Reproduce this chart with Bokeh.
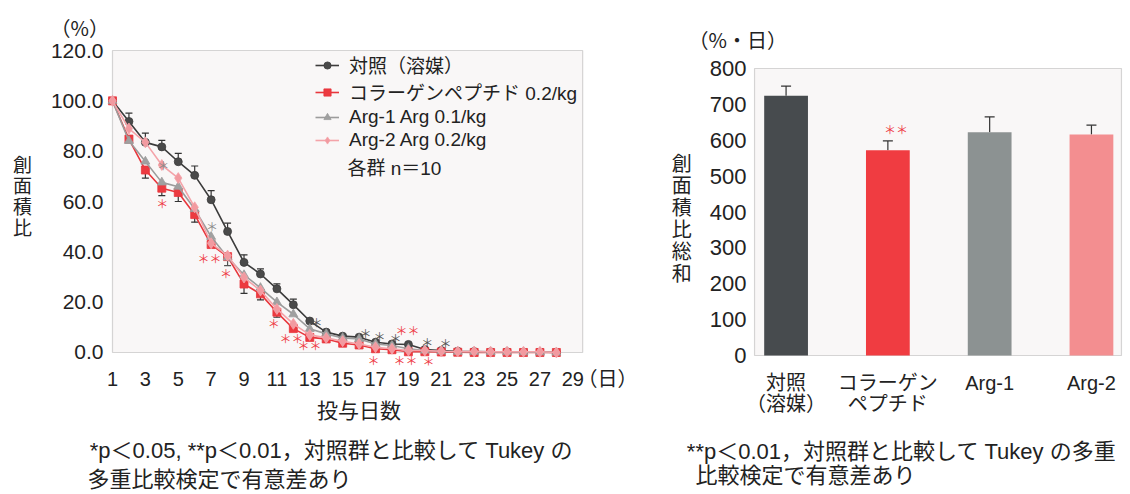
from bokeh.plotting import figure
from bokeh.models import (ColumnDataSource, Label, LabelSet, Legend, LegendItem, Title,
                          Whisker, TeeHead, FixedTicker, NumeralTickFormatter, LinearAxis,
                          Range1d, BoxAnnotation)
from bokeh.layouts import row
from bokeh.core.properties import value
from bokeh.embed import file_html
from bokeh.resources import INLINE

JP = "Noto Sans CJK JP"
LAT = "Liberation Sans"
MIX = "Liberation Sans, Noto Sans CJK JP"

# ---------------- data: wound area ratio (%) by day ----------------
days = list(range(1, 29))
control  = [100.0, 91.8, 83.5, 81.7, 75.8, 70.4, 60.7, 48.1, 35.8, 31.2, 25.3, 19.0, 12.5, 8.1,
            6.5, 6.1, 4.1, 3.4, 3.2, 1.2, 0.8, 0.5, 0.4, 0.3, 0.3, 0.2, 0.2, 0.0]
collagen = [100.0, 84.8, 72.5, 65.3, 63.6, 54.8, 42.9, 38.1, 27.2, 23.3, 16.0, 9.5, 6.0, 5.4,
            3.7, 3.0, 1.5, 1.1, 0.3, 0.3, 0.2, 0.1, 0.0, 0.0, 0.0, 0.0, 0.0, 0.0]
arg1     = [100.0, 84.1, 75.9, 67.6, 65.9, 57.0, 46.0, 37.8, 30.8, 25.7, 20.0, 15.2, 9.4, 7.4,
            5.8, 5.4, 3.4, 2.8, 1.5, 0.8, 0.5, 0.3, 0.3, 0.2, 0.2, 0.1, 0.1, 0.0]
arg2     = [100.0, 89.0, 83.5, 74.5, 69.3, 57.7, 43.4, 38.5, 29.8, 24.6, 17.3, 11.4, 7.0, 5.8,
            4.5, 3.4, 2.1, 1.5, 0.8, 0.8, 0.5, 0.4, 0.4, 0.3, 0.3, 0.3, 0.3, 0.0]
control_sd  = [0, 3.3, 3.7, 2.6, 3.3, 3.7, 3.6, 3.3, 3.0, 2.0, 2.0, 2.2, 0, 0,
               0, 0, 0, 0, 0, 0, 0, 0, 0, 0, 0, 0, 0, 0]
collagen_sd = [0, 0, 3.2, 3.0, 3.6, 3.0, 0, 0, 3.7, 2.4, 2.0, 0, 0, 0,
               0, 0, 0, 0, 0, 0, 0, 0, 0, 0, 0, 0, 0, 0]
arg1_sd     = [0, 0, 0, 0, 0, 0, 0, 3.3, 0, 0, 0, 0, 0, 0,
               0, 0, 0, 0, 0, 0, 0, 0, 0, 0, 0, 0, 0, 0]
series_names = ["対照（溶媒）", "コラーゲンペプチド 0.2/kg", "Arg-1 Arg 0.1/kg", "Arg-2 Arg 0.2/kg"]
x_ticks = [1, 3, 5, 7, 9, 11, 13, 15, 17, 19, 21, 23, 25, 27, 29]
x_unit_pos = 31.11
x_unit = "（日）"
y_ticks = [0, 20, 40, 60, 80, 100, 120]

# significance marks (day position, value position, text)
sig_gray_day = [4.08, 7.06]
sig_gray_y = [74.3, 50.2]
sig_gray_txt = ["＊", "＊"]
sig_dark_day = [13.41, 16.39, 17.24, 18.21, 20.14, 21.26]
sig_dark_y = [11.9, 7.4, 6.4, 5.4, 4.1, 3.5]
sig_dark_txt = ["＊", "＊", "＊", "＊", "＊", "＊"]
sig_red_day = [4.02, 6.90, 7.90, 10.81, 11.89, 12.98, 18.94, 16.88, 18.82, 20.22]
sig_red_y = [59.1, 37.3, 31.2, 11.4, 5.6, 2.6, 8.7, -3.2, -3.2, -3.5]
sig_red_txt = ["＊", "＊＊", "＊", "＊", "＊＊", "＊＊", "＊＊", "＊", "＊＊", "＊"]

# ---------------- data: AUC ----------------
groups = ["対照\n（溶媒）", "コラーゲン\nペプチド", "Arg-1", "Arg-2"]
group_pos = [1, 2, 3, 4]
auc = [724, 572, 622, 616]
auc_sd = [27, 26, 43, 26]
auc_sig = ["", "＊＊", "", ""]
auc_ticks = [0, 100, 200, 300, 400, 500, 600, 700, 800]

# footnotes (text, centre position on each chart's x scale)
note_left = ["*p＜0.05, **p＜0.01，対照群と比較して Tukey の", "多重比較検定で有意差あり"]
note_left_pos = [14.32, 7.51]
note_right = ["**p＜0.01，対照群と比較して Tukey の多重", "比較検定で有意差あり"]
note_right_pos = [2.135, 1.19]

# ---------------- styles ----------------
line_cols = ["#3c3c3c", "#e8363c", "#9c9c9c", "#f4a3a9"]
fill_cols = ["#4a4a4a", "#ec3a40", "#a0a0a0", "#f29aa0"]
markers = ["circle", "square", "triangle", "diamond"]
msizes = [8, 8, 9, 11]
bar_cols = ["#474b4e", "#f03c41", "#8c9292", "#f38e90"]
BG = "#f9f7f7"
FRAME = "#7a7a7a"
TXT = "#222222"
H = 494


def note_axis(p, pos, text, standoff):
    ax = LinearAxis(ticker=FixedTicker(ticks=[pos]), major_label_overrides={pos: text},
                    axis_line_color=None, major_tick_line_color=None, minor_tick_line_color=None,
                    major_tick_out=0, major_tick_in=0, minor_tick_out=0, minor_tick_in=0,
                    major_label_standoff=standoff, major_label_text_font=MIX,
                    major_label_text_font_size="22px", major_label_text_color=TXT)
    p.add_layout(ax, "below")


# =============== left figure ===============
p1 = figure(width=640, height=H, x_range=Range1d(0.696, 31.292), y_range=Range1d(-5.166, 120.4),
            output_backend="svg", toolbar_location=None,
            min_border_left=107, min_border_right=30, min_border_top=49, min_border_bottom=129)
p1.background_fill_color = "white"
p1.border_fill_color = "white"
p1.outline_line_color = None
p1.grid.grid_line_color = None
p1.add_layout(BoxAnnotation(left=1, right=29.6, bottom=0, top=120, fill_color=BG, fill_alpha=1.0,
                            line_color=FRAME, line_width=1.2, level="underlay"))

renderers = []
for vals, lc, fc, mk, ms in zip([control, collagen, arg1, arg2], line_cols, fill_cols, markers, msizes):
    ln = p1.line(days, vals, line_color=lc, line_width=1.6)
    sc = p1.scatter(days, vals, marker=mk, size=ms, fill_color=fc, line_color=lc, line_width=0.8)
    renderers.append([ln, sc])


def whisk(vals, sd, up, color):
    xs = [d for d, s in zip(days, sd) if s > 0]
    vs = [v for v, s in zip(vals, sd) if s > 0]
    ss = [s for s in sd if s > 0]
    if up:
        src = ColumnDataSource(dict(x=xs, lo=vs, hi=[v + s for v, s in zip(vs, ss)]))
        w = Whisker(source=src, base="x", lower="lo", upper="hi", dimension="height",
                    line_color=color, line_width=1.2,
                    upper_head=TeeHead(size=7, line_color=color, line_width=1.2), lower_head=None)
    else:
        src = ColumnDataSource(dict(x=xs, lo=[v - s for v, s in zip(vs, ss)], hi=vs))
        w = Whisker(source=src, base="x", lower="lo", upper="hi", dimension="height",
                    line_color=color, line_width=1.2,
                    lower_head=TeeHead(size=7, line_color=color, line_width=1.2), upper_head=None)
    w.level = "underlay"
    p1.add_layout(w)


whisk(control, control_sd, True, "#333333")
whisk(collagen, collagen_sd, False, "#333333")
whisk(arg1, arg1_sd, False, "#555555")

for dx, dy, tx, col in [(sig_gray_day, sig_gray_y, sig_gray_txt, "#8a8a8a"),
                        (sig_dark_day, sig_dark_y, sig_dark_txt, "#505050"),
                        (sig_red_day, sig_red_y, sig_red_txt, "#ee3a44")]:
    src = ColumnDataSource(dict(x=dx, y=dy, t=tx))
    p1.add_layout(LabelSet(x="x", y="y", text="t", source=src, text_align="center",
                           text_baseline="middle", text_font=value(JP), text_font_size="12px",
                           text_color=col))

legend = Legend(items=[LegendItem(label=n, renderers=r) for n, r in zip(series_names, renderers)],
                location=(208, 214), label_text_font=MIX, label_text_font_size="19px",
                label_text_color=TXT, glyph_width=24, glyph_height=18, label_height=23,
                spacing=0, padding=0, margin=0, border_line_color=None,
                background_fill_alpha=0, label_standoff=10)
p1.add_layout(legend)
p1.add_layout(Label(x=15.29, y=73.1, text="各群 n＝10", text_font=MIX, text_font_size="19px",
                    text_align="left", text_baseline="middle", text_color=TXT))

p1.xaxis.ticker = FixedTicker(ticks=x_ticks + [x_unit_pos])
p1.xaxis.major_label_overrides = {x_unit_pos: x_unit}
p1.yaxis.ticker = FixedTicker(ticks=y_ticks)
p1.yaxis.formatter = NumeralTickFormatter(format="0.0")
for ax in [p1.xaxis[0], p1.yaxis[0]]:
    ax.axis_line_color = None
    ax.major_tick_line_color = None
    ax.minor_tick_line_color = None
    ax.major_tick_out = 0
    ax.major_tick_in = 0
    ax.major_label_text_font = MIX
    ax.major_label_text_color = TXT
    ax.axis_label_text_font = MIX
    ax.axis_label_text_font_style = "normal"
    ax.axis_label_text_color = TXT
p1.yaxis.major_label_text_font_size = "21px"
p1.xaxis.major_label_text_font_size = "20px"
p1.yaxis.major_label_standoff = 4
p1.xaxis.major_label_standoff = 2
p1.yaxis.axis_label = "創\n面\n積\n比\n"
p1.yaxis.axis_label_orientation = "horizontal"
p1.yaxis.axis_label_text_font_size = "19px"
p1.yaxis.axis_label_text_line_height = 1.0
p1.yaxis.axis_label_standoff = 16
p1.xaxis.axis_label = "投与日数"
p1.xaxis.axis_label_text_font_size = "21px"
p1.xaxis.axis_label_standoff = 6

p1.add_layout(Title(text="（%）", align="left", offset=-57, standoff=16, text_font=JP,
                    text_font_size="20px", text_font_style="normal", text_color=TXT), "above")
note_axis(p1, note_left_pos[0], note_left[0], 13)
note_axis(p1, note_left_pos[1], note_left[1], 1)

# =============== right figure ===============
p2 = figure(width=490, height=H, x_range=Range1d(0.68, 4.305), y_range=Range1d(-27.87, 852.96),
            output_backend="svg", toolbar_location=None,
            min_border_left=113, min_border_right=8, min_border_top=49, min_border_bottom=129)
p2.background_fill_color = "white"
p2.border_fill_color = "white"
p2.outline_line_color = None
p2.grid.grid_line_color = None
p2.add_layout(BoxAnnotation(left=0.69, right=4.295, bottom=0, top=800, fill_color=BG, fill_alpha=1.0,
                            line_color=FRAME, line_width=1.2, level="underlay"))

bsrc = ColumnDataSource(dict(x=group_pos, top=auc, col=bar_cols,
                             hi=[a + s for a, s in zip(auc, auc_sd)]))
p2.vbar(x="x", top="top", width=0.43, fill_color="col", line_color=None, source=bsrc)
wb = Whisker(source=bsrc, base="x", lower="top", upper="hi", dimension="height",
             line_color="#333333", line_width=1.2,
             upper_head=TeeHead(size=10, line_color="#333333", line_width=1.2), lower_head=None)
wb.level = "underlay"
p2.add_layout(wb)
sig_src = ColumnDataSource(dict(x=[g + 0.08 for g in group_pos],
                                y=[h + 32 for h in bsrc.data["hi"]], t=auc_sig))
p2.add_layout(LabelSet(x="x", y="y", text="t", source=sig_src, text_align="center",
                       text_baseline="middle", text_font=value(JP), text_font_size="12px",
                       text_color="#ee3a44"))

p2.xaxis.ticker = FixedTicker(ticks=group_pos)
p2.xaxis.major_label_overrides = {g: t for g, t in zip(group_pos, groups)}
p2.yaxis.ticker = FixedTicker(ticks=auc_ticks)
for ax in [p2.xaxis[0], p2.yaxis[0]]:
    ax.axis_line_color = None
    ax.major_tick_line_color = None
    ax.minor_tick_line_color = None
    ax.major_tick_out = 0
    ax.major_tick_in = 0
    ax.major_label_text_color = TXT
    ax.axis_label_text_font = MIX
    ax.axis_label_text_font_style = "normal"
    ax.axis_label_text_color = TXT
p2.yaxis.major_label_text_font = LAT
p2.yaxis.major_label_text_font_size = "22px"
p2.yaxis.major_label_standoff = 7
p2.xaxis.major_label_text_font = MIX
p2.xaxis.major_label_text_font_size = "20px"
p2.xaxis.major_label_text_line_height = 0.96
p2.xaxis.major_label_standoff = 6
p2.yaxis.axis_label = "\n創\n面\n積\n比\n総\n和"
p2.yaxis.axis_label_orientation = "horizontal"
p2.yaxis.axis_label_text_font_size = "20px"
p2.yaxis.axis_label_text_line_height = 1.0
p2.yaxis.axis_label_standoff = 15

p2.add_layout(Title(text="（%・日）", align="left", offset=-65, standoff=-9, text_font=JP,
                    text_font_size="20px", text_font_style="normal", text_color=TXT), "above")
note_axis(p2, note_right_pos[0], note_right[0], 21)
note_axis(p2, note_right_pos[1], note_right[1], -4)

layout = row(p1, p2)
open("out.html", "w").write(file_html(layout, INLINE))
